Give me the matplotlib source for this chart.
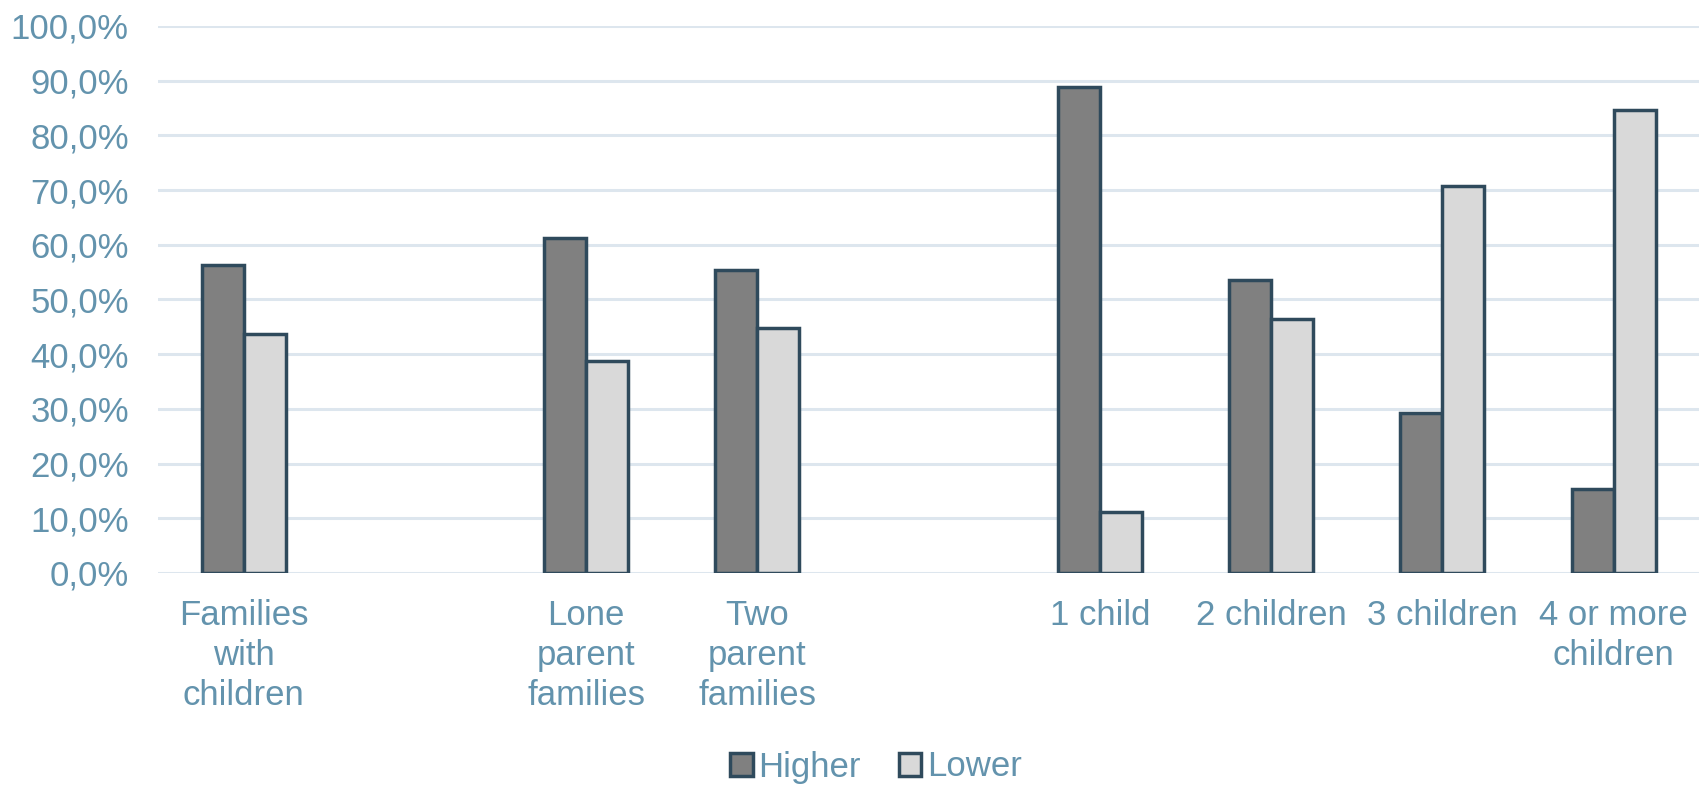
import numpy as np
import matplotlib
matplotlib.use("Agg")
import matplotlib.pyplot as plt
from matplotlib.ticker import FuncFormatter

# category slots, '' marks an empty gap between groups
categories = ["Families\nwith\nchildren", "", "Lone\nparent\nfamilies", "Two\nparent\nfamilies", "",
              "1 child", "2 children", "3 children", "4 or more\nchildren"]
higher = [56.3, None, 61.2, 55.3, None, 88.9, 53.6, 29.3, 15.4]
lower = [43.7, None, 38.8, 44.7, None, 11.1, 46.4, 70.7, 84.6]
series_names = ["Higher", "Lower"]

text_col = "#6393ad"
edge_col = "#2f4a5c"
grid_col = "#dde6ee"

plt.rcParams["font.family"] = ["Liberation Sans", "DejaVu Sans"]

fig = plt.figure(figsize=(17.03, 7.87), dpi=100)
ax = fig.add_axes([0.0928, 0.272, 0.905, 0.695])

x = np.arange(len(categories))
w = 0.245
idx = [i for i, v in enumerate(higher) if v is not None]
hi = [higher[i] for i in idx]
lo = [lower[i] for i in idx]
xi = x[idx]

ax.bar(xi - w / 2, hi, w, color="#808080", edgecolor=edge_col, linewidth=2.5,
       label=series_names[0], zorder=3)
ax.bar(xi + w / 2, lo, w, color="#d9d9d9", edgecolor=edge_col, linewidth=2.5,
       label=series_names[1], zorder=3)

ax.set_xlim(-0.5, len(categories) - 0.5)
ax.set_ylim(0, 100)
ax.set_yticks(np.arange(0, 101, 10))
ax.yaxis.set_major_formatter(FuncFormatter(lambda v, p: f"{v:.1f}%".replace(".", ",")))
ax.set_xticks(x)
ax.set_xticklabels(categories, linespacing=1.27)

ax.grid(axis="y", color=grid_col, linewidth=2.2, zorder=0)
for s in ax.spines.values():
    s.set_visible(False)
ax.tick_params(axis="both", length=0, labelsize=25, colors=text_col)
ax.tick_params(axis="y", pad=21)
ax.tick_params(axis="x", pad=19)

fig.legend(loc="center", bbox_to_anchor=(876 / 1703, 1 - 767 / 787), ncol=2,
           frameon=False, fontsize=25, handlelength=0.65, handleheight=0.65,
           handletextpad=0.15, columnspacing=1.1, labelcolor=text_col)

fig.savefig("out.png", dpi=100)
